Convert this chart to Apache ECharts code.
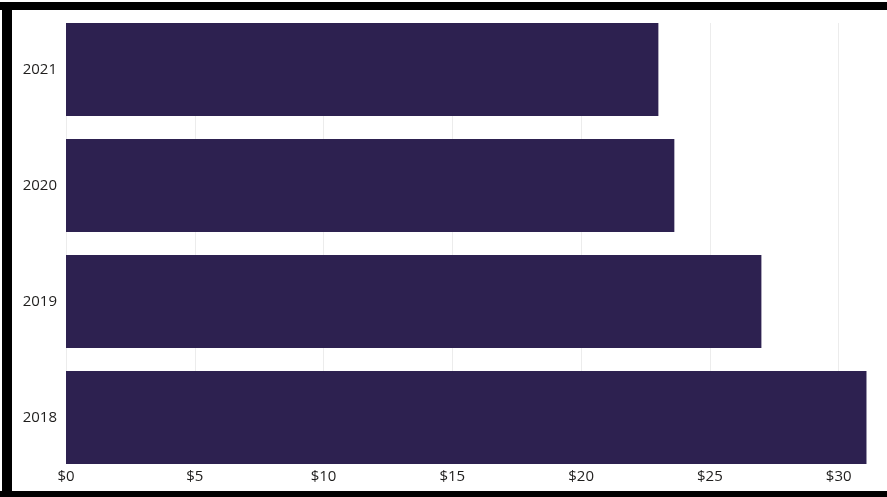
<!DOCTYPE html>
<html>
<head>
<meta charset="utf-8">
<script src="https://cdn.jsdelivr.net/npm/echarts@6/dist/echarts.min.js"></script>
<style>
  html, body { margin: 0; padding: 0; background: #ffffff; }
  #wrap { position: relative; width: 887px; height: 497px; overflow: hidden; }
  #chart { position: absolute; left: 0; top: 0; width: 887px; height: 497px; }
  .edge { position: absolute; background: #000000; }
</style>
</head>
<body>
<div id="wrap">
  <div id="chart"></div>
  <div class="edge" style="left:0;top:2px;width:887px;height:8px;"></div>
  <div class="edge" style="left:2px;top:2px;width:10px;height:495px;"></div>
  <div class="edge" style="left:0;top:491px;width:887px;height:6px;"></div>
</div>
<script>
// Yearly average amount, bottom to top
const years = ['2018', '2019', '2020', '2021'];
const amounts = [31.08, 27.0, 23.62, 23.0];
// Dollar tick values shown on the horizontal axis
const tickValues = [0, 5, 10, 15, 20, 25, 30];

const labelFont = { fontFamily: '"Open Sans", "DejaVu Sans", sans-serif', fontSize: 15, color: '#1f1e1d' };

const chart = echarts.init(document.getElementById('chart'), null, { renderer: 'canvas' });

chart.setOption({
  animation: false,
  backgroundColor: '#ffffff',
  grid: [
    // bars: category bands
    { left: 66, right: 20, top: 11.5, height: 464, containLabel: false },
    // gridlines and dollar labels, spanning the bar extent only
    { left: 66, right: 887 - 66 - 30 * (801 / 31.1), top: 23, height: 441, containLabel: false }
  ],
  xAxis: [
    {
      gridIndex: 0, type: 'value', min: 0, max: 31.1,
      show: false
    },
    {
      gridIndex: 1, type: 'value', min: tickValues[0], max: tickValues[tickValues.length - 1],
      interval: tickValues[1] - tickValues[0],
      axisLine: { show: false },
      axisTick: { show: false },
      splitLine: { show: true, lineStyle: { color: '#ececec', width: 1 } },
      axisLabel: Object.assign({ margin: 5, formatter: v => '$' + v }, labelFont)
    }
  ],
  yAxis: [
    {
      gridIndex: 0, type: 'category', data: years,
      axisLine: { show: false },
      axisTick: { show: false },
      splitLine: { show: false },
      axisLabel: Object.assign({ margin: 9 }, labelFont)
    },
    {
      gridIndex: 1, type: 'value', show: false
    }
  ],
  series: [
    {
      type: 'bar',
      xAxisIndex: 0, yAxisIndex: 0,
      data: amounts,
      barCategoryGap: '20%',
      itemStyle: { color: '#2d2150' },
      z: 3
    }
  ]
});
</script>
</body>
</html>
